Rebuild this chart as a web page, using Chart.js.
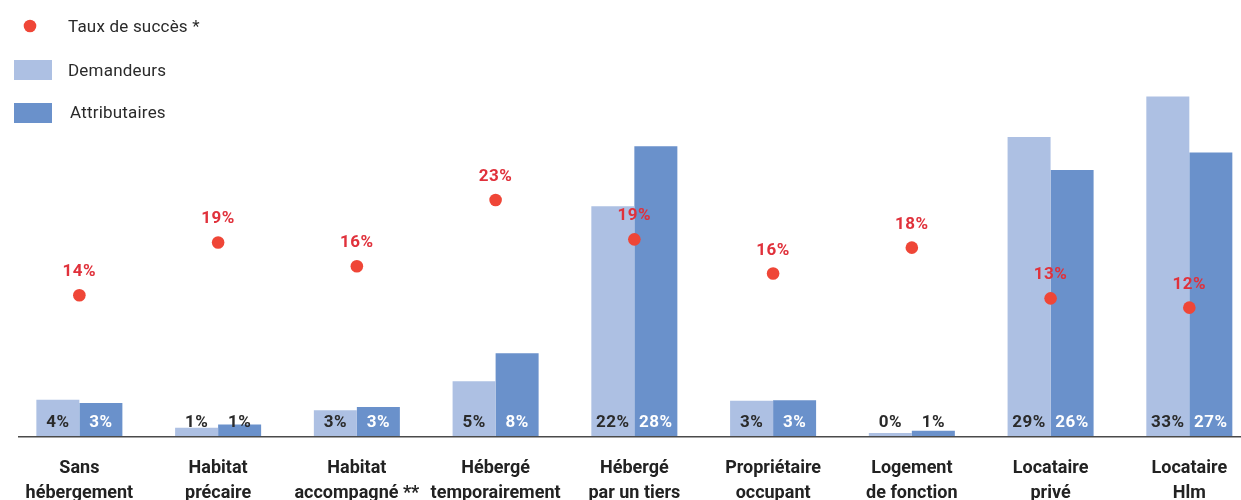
<!DOCTYPE html>
<html>
<head>
<meta charset="utf-8">
<script src="https://cdn.jsdelivr.net/npm/chart.js@4/dist/chart.umd.min.js"></script>
<style>
  body { margin: 0; overflow: hidden; background: #fff; }
  #wrap { position: relative; width: 1265px; height: 500px; }
</style>
</head>
<body>
<div id="wrap"><canvas id="chart"></canvas></div>
<script>
// données (en %)
const categories = [
    ['Sans', 'hébergement'],
    ['Habitat', 'précaire'],
    ['Habitat', 'accompagné **'],
    ['Hébergé', 'temporairement'],
    ['Hébergé', 'par un tiers'],
    ['Propriétaire', 'occupant'],
    ['Logement', 'de fonction'],
    ['Locataire', 'privé'],
    ['Locataire', 'Hlm']
];
const demandeurs = [3.5, 0.8, 2.5, 5.3, 22.2, 3.4, 0.3, 28.9, 32.8];
const attributaires = [3.2, 1.1, 2.8, 8.0, 28.0, 3.45, 0.5, 25.7, 27.4];
const tauxSucces = [13.6, 18.7, 16.4, 22.8, 19.0, 15.7, 18.2, 13.3, 12.4];

const LIGHT = '#adc0e3';
const DARK = '#6a91cb';
const RED = '#ef4637';
const RED_TXT = '#e0313b';
const TXT = '#2a2a2a';
const FONT = 'Roboto, "DejaVu Sans", sans-serif';

const labelsPlugin = {
    id: 'labelsPlugin',
    afterDatasetsDraw(chart) {
        const ctx = chart.ctx;
        ctx.save();
        // axe horizontal
        ctx.strokeStyle = '#4a4a4a';
        ctx.lineWidth = 1.5;
        ctx.beginPath();
        ctx.moveTo(18, chart.chartArea.bottom + 0.75);
        ctx.lineTo(1241, chart.chartArea.bottom + 0.75);
        ctx.stroke();

        ctx.textAlign = 'center';
        ctx.textBaseline = 'alphabetic';
        ctx.font = 'bold 17px ' + FONT;
        ctx.letterSpacing = '0.5px';
        [0, 1].forEach(di => {
            const meta = chart.getDatasetMeta(di);
            const vals = chart.data.datasets[di].data;
            meta.data.forEach((bar, i) => {
                const h = bar.base - bar.y;
                let col = TXT;
                if (di === 1 && h > 20) col = '#ffffff';
                ctx.fillStyle = col;
                ctx.fillText(Math.round(vals[i]) + '%', bar.x, chart.chartArea.bottom - 9);
            });
        });

        const pts = chart.getDatasetMeta(2);
        ctx.fillStyle = RED_TXT;
        pts.data.forEach((p, i) => {
            ctx.fillText(Math.round(tauxSucces[i]) + '%', p.x, p.y - 19);
        });

        // légende
        ctx.letterSpacing = '0.2px';
        ctx.textAlign = 'left';
        ctx.font = '17px ' + FONT;
        ctx.fillStyle = RED;
        ctx.beginPath();
        ctx.arc(30, 26, 6.3, 0, Math.PI * 2);
        ctx.fill();
        ctx.fillStyle = LIGHT;
        ctx.fillRect(14, 60, 38, 20);
        ctx.fillStyle = DARK;
        ctx.fillRect(14, 103, 38, 20);
        ctx.fillStyle = TXT;
        ctx.fillText('Taux de succès *', 68, 32);
        ctx.fillText('Demandeurs', 68, 76);
        ctx.fillText('Attributaires', 70, 118);
        ctx.restore();
    }
};

document.addEventListener('DOMContentLoaded', () => {
    const ctx = document.getElementById('chart').getContext('2d');
    new Chart(ctx, {
        type: 'bar',
        data: {
            labels: categories,
            datasets: [
                {
                    label: 'Demandeurs',
                    data: demandeurs,
                    backgroundColor: LIGHT,
                    order: 2
                },
                {
                    label: 'Attributaires',
                    data: attributaires,
                    backgroundColor: DARK,
                    order: 2
                },
                {
                    type: 'line',
                    label: 'Taux de succès *',
                    data: tauxSucces,
                    showLine: false,
                    pointRadius: 6.3,
                    pointBorderWidth: 0,
                    pointBackgroundColor: RED,
                    order: 0
                }
            ]
        },
        options: {
            responsive: true,
            maintainAspectRatio: false,
            animation: false,
            layout: { padding: { left: 10, right: 1, top: 22, bottom: 0 } },
            datasets: {
                bar: { categoryPercentage: 0.62, barPercentage: 1 }
            },
            plugins: {
                legend: { display: false },
                tooltip: { enabled: false }
            },
            scales: {
                x: {
                    grid: { display: false },
                    border: { display: false },
                    afterFit: (scale) => { scale.height = 64; },
                    ticks: {
                        autoSkip: false,
                        maxRotation: 0,
                        padding: 12,
                        color: '#222',
                        font: { family: FONT, size: 18, weight: 'bold', lineHeight: '25px' }
                    }
                },
                y: {
                    display: false,
                    min: 0,
                    max: 40
                }
            }
        },
        plugins: [labelsPlugin]
    });
});
</script>
</body>
</html>
